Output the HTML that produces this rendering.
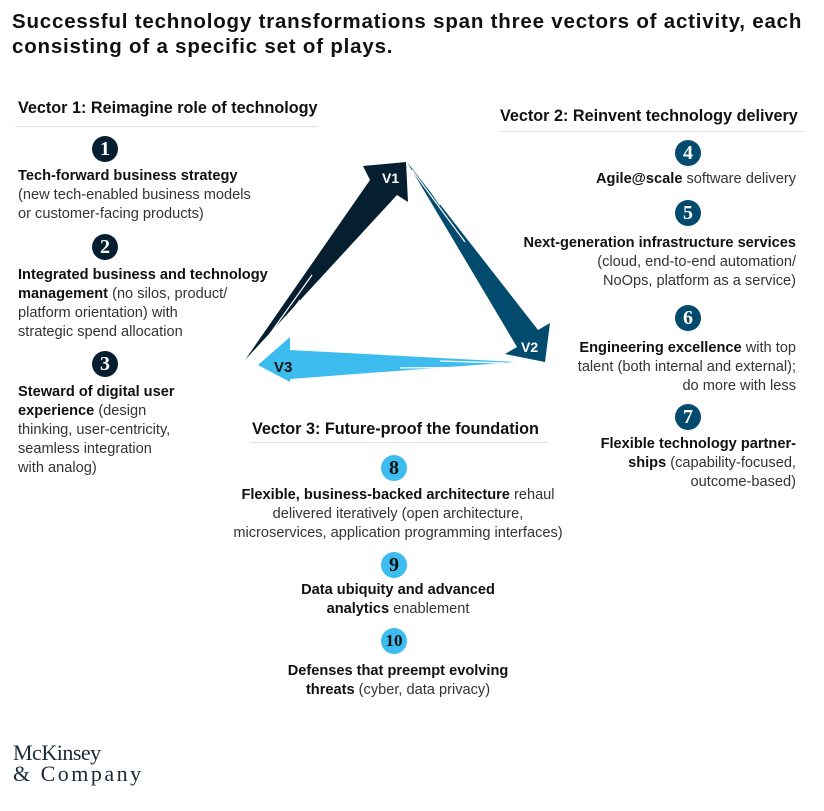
<!DOCTYPE html>
<html><head><meta charset="utf-8"><style>
body{margin:0;width:824px;height:811px;background:#fff;position:relative;font-family:"Liberation Sans",sans-serif;color:#222;overflow:hidden}
.a{position:absolute}
.t{font-size:14.6px;line-height:19px;color:#333}
.t b{color:#111}
.h{font-size:16.2px;font-weight:bold;color:#111;white-space:nowrap}
.c{position:absolute;width:26px;height:26px;border-radius:50%;color:#fff;font-family:"Liberation Serif",serif;font-weight:bold;font-size:20px;line-height:26px;text-align:center}
.d{background:#061f30}.m{background:#034b6e}.l{background:#3dbcf0;color:#111}
.r{text-align:right;white-space:nowrap}
.ce{text-align:center;white-space:nowrap}
.u{position:absolute;height:1px;background:#e3e3e3}
</style></head><body>
<div class="a" style="left:12px;top:9px;font-size:20.5px;letter-spacing:0.8px;font-weight:bold;line-height:25px;color:#111;width:810px;white-space:nowrap">Successful technology transformations span three vectors of activity, each<br>consisting of a specific set of plays.</div>

<div class="a h" style="left:18px;top:99px">Vector 1: Reimagine role of technology</div>
<div class="u" style="left:15px;top:126px;width:303px"></div>
<div class="c d" style="left:92px;top:136px">1</div>
<div class="a t" style="left:18px;top:167px;width:270px"><b>Tech-forward business strategy</b><br>(new tech-enabled business models<br>or customer-facing products)</div>
<div class="c d" style="left:92px;top:234px">2</div>
<div class="a t" style="left:18px;top:266px;width:270px"><b>Integrated business and technology<br>management</b> (no silos, product/<br>platform orientation) with<br>strategic spend allocation</div>
<div class="c d" style="left:92px;top:351px">3</div>
<div class="a t" style="left:18px;top:383px;width:220px"><b>Steward of digital user<br>experience</b> (design<br>thinking, user-centricity,<br>seamless integration<br>with analog)</div>

<div class="a h" style="left:500px;top:107px">Vector 2: Reinvent technology delivery</div>
<div class="u" style="left:500px;top:131px;width:305px"></div>
<div class="c m" style="left:675px;top:140px">4</div>
<div class="a t r" style="right:28px;top:170px"><b>Agile@scale</b> software delivery</div>
<div class="c m" style="left:675px;top:200px">5</div>
<div class="a t r" style="right:28px;top:234px"><b>Next-generation infrastructure services</b><br>(cloud, end-to-end automation/<br>NoOps, platform as a service)</div>
<div class="c m" style="left:675px;top:305px">6</div>
<div class="a t r" style="right:28px;top:339px"><b>Engineering excellence</b> with top<br>talent (both internal and external);<br>do more with less</div>
<div class="c m" style="left:675px;top:404px">7</div>
<div class="a t r" style="right:28px;top:435px"><b>Flexible technology partner-<br>ships</b> (capability-focused,<br>outcome-based)</div>

<div class="a h" style="left:252px;top:420px">Vector 3: Future-proof the foundation</div>
<div class="u" style="left:250px;top:442px;width:298px"></div>
<div class="c l" style="left:381px;top:455px">8</div>
<div class="a t ce" style="left:188px;width:420px;top:486px"><b>Flexible, business-backed architecture</b> rehaul<br>delivered iteratively (open architecture,<br>microservices, application programming interfaces)</div>
<div class="c l" style="left:381px;top:552px">9</div>
<div class="a t ce" style="left:188px;width:420px;top:581px"><b>Data ubiquity and advanced<br>analytics</b> enablement</div>
<div class="c l" style="left:381px;top:628px;font-size:17px">10</div>
<div class="a t ce" style="left:188px;width:420px;top:662px"><b>Defenses that preempt evolving<br>threats</b> (cyber, data privacy)</div>

<svg class="a" style="left:0;top:0" width="824" height="811">
<polygon points="245,360 370,180 363,166 406,162 408,202 397,195" fill="#061f30"/>
<polygon points="407,162 538,330 550,323 545,362 505,354 517,347" fill="#034b6e"/>
<polygon points="515,362 290,350 290,337 258,365 290,382 290,379" fill="#3dbcf0"/>
<g stroke="#fff" stroke-width="1.2">
<line x1="262" y1="345" x2="312" y2="275"/><line x1="268" y1="342" x2="300" y2="300"/>
<line x1="412" y1="170" x2="465" y2="242"/><line x1="420" y1="175" x2="440" y2="205"/>
<line x1="440" y1="361" x2="505" y2="363"/><line x1="400" y1="368" x2="490" y2="367"/>
</g>
<text x="382" y="183" fill="#fff" font-size="14" font-weight="bold" font-family="Liberation Sans">V1</text>
<text x="521" y="352" fill="#fff" font-size="14" font-weight="bold" font-family="Liberation Sans">V2</text>
<text x="274" y="372" fill="#111" font-size="15" font-weight="bold" font-family="Liberation Sans">V3</text>
</svg>

<div class="a" style="left:13px;top:742px;font-family:'Liberation Serif',serif;font-size:22px;line-height:21px;color:#1a2a3a;letter-spacing:-0.5px">McKinsey<br><span style="letter-spacing:2.5px">&amp; Company</span></div>
</body></html>
